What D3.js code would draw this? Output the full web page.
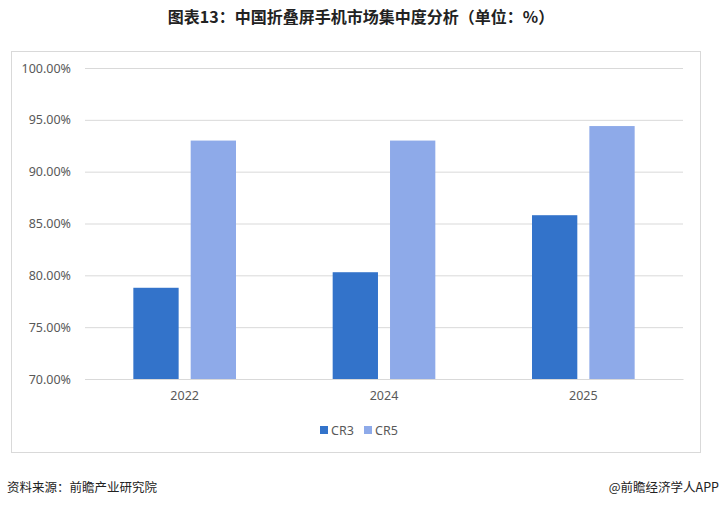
<!DOCTYPE html>
<html>
<head>
<meta charset="utf-8">
<script src="https://cdn.jsdelivr.net/npm/d3@7"></script>
<style>
  body { margin: 0; background: #fff; }
  svg { display: block; }
</style>
</head>
<body>
<div id="chart"></div>
<script>
// data
let years = ["2022", "2024", "2025"];
let seriesNames = ["CR3", "CR5"];
let cr3 = [78.8, 80.3, 85.8];
let cr5 = [93.0, 93.0, 94.4];
let yTicks = [70, 75, 80, 85, 90, 95, 100];
let colors = ["#3373ca", "#8eaae9"];

let svgWidth = 721;
let svgHeight = 507;

// plot area inside the frame
let margin = { top: 68, right: 38, bottom: 128, left: 85 };
let width = svgWidth - margin.left - margin.right;
let height = svgHeight - margin.top - margin.bottom;

let svg = d3.select("#chart")
  .append("svg")
  .attr("width", svgWidth)
  .attr("height", svgHeight)
  .style("font-family", "'Noto Sans CJK SC', 'Noto Sans', sans-serif");

svg.append("rect")
  .attr("width", svgWidth)
  .attr("height", svgHeight)
  .attr("fill", "#fff");

// title
svg.append("text")
  .attr("x", 361)
  .attr("y", 23)
  .attr("text-anchor", "middle")
  .attr("font-size", "16px")
  .attr("font-weight", "bold")
  .attr("fill", "#222")
  .text("图表13：中国折叠屏手机市场集中度分析（单位：%）");

// outer frame
svg.append("rect")
  .attr("x", 11.5)
  .attr("y", 51.5)
  .attr("width", 689)
  .attr("height", 401)
  .attr("fill", "none")
  .attr("stroke", "#d9d9d9")
  .attr("stroke-width", 1);

let chartGroup = svg.append("g")
  .attr("transform", `translate(${margin.left}, ${margin.top})`);

let yScale = d3.scaleLinear()
  .domain([70, 100])
  .range([height, 0]);

let x0 = d3.scaleBand()
  .domain(years)
  .range([0, width])
  .padding(0);

// group of two bars sits in the middle of each band
let groupW = x0.bandwidth() * 0.515;
let x1 = d3.scaleBand()
  .domain(seriesNames)
  .range([(x0.bandwidth() - groupW) / 2, (x0.bandwidth() + groupW) / 2])
  .paddingInner(0.21);

// gridlines + y labels
let leftAxis = d3.axisLeft(yScale)
  .tickValues(yTicks)
  .tickSize(-width)
  .tickPadding(14)
  .tickFormat(d => d.toFixed(2) + "%");

let yAxisG = chartGroup.append("g").call(leftAxis);
yAxisG.select(".domain").remove();
yAxisG.selectAll(".tick line").attr("stroke", "#d9d9d9");
yAxisG.selectAll(".tick text")
  .attr("fill", "#595959")
  .attr("font-size", "12.5px")
  .attr("font-family", "'Noto Sans', sans-serif");

// bars
let rows = years.map((y, i) => ({ year: y, values: [cr3[i], cr5[i]] }));

let groups = chartGroup.selectAll(".grp")
  .data(rows)
  .enter()
  .append("g")
  .attr("transform", d => `translate(${x0(d.year)}, 0)`);

groups.selectAll("rect")
  .data(d => d.values.map((v, k) => ({ key: seriesNames[k], value: v, k: k })))
  .enter()
  .append("rect")
  .attr("x", d => x1(d.key))
  .attr("width", x1.bandwidth())
  .attr("y", d => yScale(d.value))
  .attr("height", d => height - yScale(d.value))
  .attr("fill", d => colors[d.k]);

// x axis labels
let bottomAxis = d3.axisBottom(x0).tickSize(0).tickPadding(12);
let xAxisG = chartGroup.append("g")
  .attr("transform", `translate(0, ${height})`)
  .call(bottomAxis);
xAxisG.select(".domain").attr("stroke", "#d9d9d9");
xAxisG.selectAll(".tick text")
  .attr("fill", "#595959")
  .attr("font-size", "12.5px")
  .attr("font-family", "'Noto Sans', sans-serif");

// legend
let legendX = [320, 364];
let legend = svg.append("g");
seriesNames.forEach((name, k) => {
  legend.append("rect")
    .attr("x", legendX[k])
    .attr("y", 426)
    .attr("width", 8)
    .attr("height", 8)
    .attr("fill", colors[k]);
  legend.append("text")
    .attr("x", legendX[k] + 11)
    .attr("y", 435)
    .attr("font-size", "12.5px")
    .attr("font-family", "'Noto Sans', sans-serif")
    .attr("fill", "#595959")
    .text(name);
});

// footer
svg.append("text")
  .attr("x", 7)
  .attr("y", 492)
  .attr("font-size", "12.5px")
  .attr("fill", "#222")
  .text("资料来源：前瞻产业研究院");

svg.append("text")
  .attr("x", 719)
  .attr("y", 492)
  .attr("text-anchor", "end")
  .attr("font-size", "12.5px")
  .attr("fill", "#222")
  .text("@前瞻经济学人APP");
</script>
</body>
</html>
